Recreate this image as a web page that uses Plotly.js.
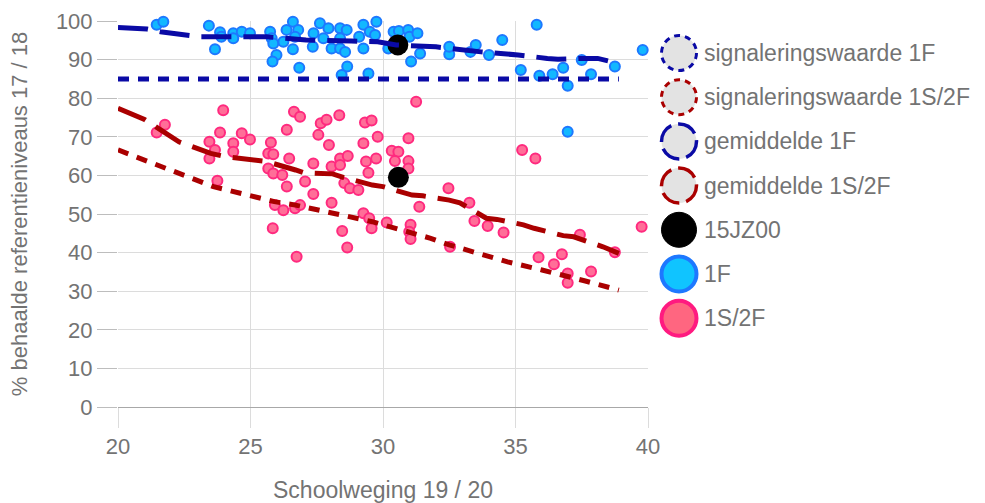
<!DOCTYPE html>
<html>
<head>
<meta charset="utf-8">
<script src="https://cdn.plot.ly/plotly-3.0.1.min.js"></script>
<style>html,body{margin:0;padding:0;background:#fff;}#chart{width:985px;height:503px;}</style>
</head>
<body>
<div id="chart"></div>
<script>
// ---- data ----
const seriesNames = ["signaleringswaarde 1F", "signaleringswaarde 1S/2F", "gemiddelde 1F", "gemiddelde 1S/2F", "15JZ00", "1F", "1S/2F"];

const sign1F_x = [20, 38.9];
const sign1F_y = [85, 85];

const sign1S2F_x = [20, 23.6, 25.9, 26.7, 29.6, 30.3, 31.8, 32.5, 34.7, 36.0, 36.8, 37.6, 38.9];
const sign1S2F_y = [66.6, 57.1, 53.2, 52.3, 48.0, 46.7, 43.7, 42.0, 37.6, 35.5, 34.2, 32.7, 30.3];

const gem1F_x = [20, 21.1, 21.6, 22.6, 23.1, 25.6, 27.1, 28.8, 29.8, 30.5, 31.7, 32.0, 33.7, 34.7, 35.1, 36.2, 36.6, 37.6, 38.1, 38.9];
const gem1F_y = [98.3, 97.9, 97.2, 96.2, 95.9, 95.9, 95.1, 94.8, 94.6, 93.8, 93.3, 93.3, 92.0, 91.6, 91.2, 90.3, 90.1, 90.3, 90.3, 89.0];

const gem1S2F_x = [20, 21.0, 22.3, 23.5, 24.1, 25.2, 25.6, 26.7, 27.0, 28.1, 28.5, 29.6, 30.0, 31.1, 31.5, 32.5, 32.9, 33.9, 34.3, 35.3, 35.7, 36.8, 37.2, 38.3, 38.9];
const gem1S2F_y = [77.4, 74.5, 68.7, 65.7, 64.8, 64.0, 63.6, 61.4, 60.7, 60.4, 59.5, 57.5, 57.1, 54.9, 54.7, 53.6, 52.9, 48.9, 48.6, 47.2, 46.3, 44.4, 44.1, 41.5, 39.8];

const school_x = [30.56, 30.58];
const school_y = [93.8, 59.5];

const f1_x = [21.46, 21.71, 23.43, 23.85, 23.66, 24.35, 24.67, 24.98, 23.9, 24.35, 25.74, 25.8, 25.86, 25.98, 25.83, 26.36, 26.6, 26.8, 26.68, 26.24, 26.6, 26.84, 27.38, 27.35, 27.62, 27.94, 27.75, 28.06, 28.38, 28.38, 28.38, 28.63, 28.57, 28.65, 28.44, 29.26, 29.5, 29.1, 29.26, 29.45, 29.75, 29.7, 30.2, 30.4, 30.6, 30.95, 31.0, 31.3, 31.4, 31.06, 32.5, 32.5, 33.3, 33.5, 34.0, 34.5, 35.8, 35.2, 35.9, 36.4, 36.8, 36.97, 37.5, 37.85, 38.75, 39.8, 36.97];
const f1_y = [99.0, 99.8, 98.8, 97.1, 92.7, 96.8, 97.2, 96.8, 95.9, 95.5, 97.2, 95.5, 94.2, 91.2, 89.5, 97.7, 99.8, 97.7, 95.9, 94.6, 92.7, 87.9, 96.8, 93.3, 99.4, 98.1, 95.5, 92.9, 98.1, 95.5, 92.9, 97.7, 92.0, 88.2, 86.0, 99.0, 97.2, 95.9, 92.9, 86.4, 99.8, 96.4, 92.9, 97.2, 97.4, 97.7, 95.9, 96.8, 91.6, 89.5, 91.4, 93.3, 92.0, 93.8, 91.2, 95.1, 99.0, 87.3, 85.8, 86.2, 87.9, 83.2, 89.9, 86.2, 88.2, 92.5, 71.3];

const s2f_x = [21.46, 21.77, 23.97, 23.85, 23.45, 23.66, 23.45, 23.75, 24.67, 24.98, 24.35, 24.35, 25.77, 25.67, 25.86, 25.67, 25.86, 26.2, 26.37, 25.92, 26.24, 25.84, 26.37, 26.64, 26.87, 26.46, 26.74, 26.68, 26.87, 27.06, 27.37, 27.37, 27.56, 27.65, 27.87, 27.96, 28.35, 28.06, 28.38, 28.38, 28.67, 28.54, 28.75, 29.07, 28.06, 28.46, 28.65, 29.32, 29.57, 29.26, 29.36, 29.45, 29.74, 29.8, 29.26, 29.48, 29.57, 31.25, 30.96, 30.33, 30.58, 30.45, 30.96, 30.96, 32.47, 31.37, 33.26, 30.14, 31.04, 30.99, 31.04, 32.53, 33.45, 33.95, 34.55, 35.25, 35.75, 35.87, 36.45, 36.75, 36.97, 36.97, 37.43, 37.85, 38.75, 39.76];
const s2f_y = [71.1, 73.1, 76.9, 71.1, 68.7, 66.6, 64.4, 58.6, 70.9, 69.3, 68.3, 66.1, 68.5, 65.7, 65.5, 61.8, 60.5, 60.1, 57.1, 52.3, 51.0, 46.3, 71.8, 76.5, 75.2, 64.4, 38.9, 51.5, 52.3, 58.4, 63.1, 55.2, 70.5, 73.5, 74.4, 67.9, 75.6, 62.3, 64.4, 62.7, 65.0, 58.0, 56.7, 56.2, 52.9, 45.6, 41.3, 73.7, 74.2, 68.3, 63.6, 60.7, 64.4, 70.0, 50.2, 48.9, 46.3, 79.1, 69.6, 66.4, 66.1, 63.7, 63.7, 61.8, 56.7, 51.9, 52.9, 47.8, 47.2, 45.4, 43.5, 41.5, 48.2, 46.9, 45.2, 66.6, 64.4, 38.8, 37.0, 39.6, 34.6, 32.2, 44.6, 35.1, 40.1, 46.7];

const xTitle = "Schoolweging 19 / 20";
const yTitle = "% behaalde referentieniveaus 17 / 18";

// ---- styles ----
const NAVY = "#0a0aa5";
const DRED = "#aa0000";
const TXT = "#737373";
const FONT = "Arial, 'Liberation Sans', sans-serif";

const traces = [
  {x: f1_x, y: f1_y, name: seriesNames[5], type: "scatter", mode: "markers", cliponaxis: false,
   marker: {size: 10, color: "#12b8ff", line: {color: "#1e78ff", width: 2}}},
  {x: s2f_x, y: s2f_y, name: seriesNames[6], type: "scatter", mode: "markers", cliponaxis: false,
   marker: {size: 10, color: "#ff6e98", line: {color: "#ff2a7f", width: 2}}},
  {x: school_x, y: school_y, name: seriesNames[4], type: "scatter", mode: "markers", cliponaxis: false,
   marker: {size: 21, color: "#000000"}},
  {x: sign1F_x, y: sign1F_y, name: seriesNames[0], type: "scatter", mode: "lines",
   line: {color: NAVY, width: 5, dash: "11px,9px"}},
  {x: sign1S2F_x, y: sign1S2F_y, name: seriesNames[1], type: "scatter", mode: "lines",
   line: {color: DRED, width: 5, dash: "11px,9px"}},
  {x: gem1F_x, y: gem1F_y, name: seriesNames[2], type: "scatter", mode: "lines",
   line: {color: NAVY, width: 5, dash: "30px,12px"}},
  {x: gem1S2F_x, y: gem1S2F_y, name: seriesNames[3], type: "scatter", mode: "lines",
   line: {color: DRED, width: 5, dash: "30px,12px"}}
];

// custom legend (shapes + text)
const PL = 118, PW = 530, PB = 407, PH = 386;
const legendItems = [
  {name: seriesNames[0], fill: "#e3e3e3", line: NAVY, dash: "6px,5px", w: 3},
  {name: seriesNames[1], fill: "#e3e3e3", line: DRED, dash: "6px,5px", w: 3},
  {name: seriesNames[2], fill: "#e3e3e3", line: NAVY, dash: "20px,7px", w: 3.5},
  {name: seriesNames[3], fill: "#e3e3e3", line: DRED, dash: "20px,7px", w: 3.5},
  {name: seriesNames[4], fill: "#000000", line: "#000000", dash: "solid", w: 1},
  {name: seriesNames[5], fill: "#10c4ff", line: "#1e78ff", dash: "solid", w: 4},
  {name: seriesNames[6], fill: "#ff6680", line: "#ff1a80", dash: "solid", w: 4}
];
const legendY0 = 53, legendDY = 44.2, circX = 679, textX = 702;
const shapes = [], annotations = [];
legendItems.forEach((it, i) => {
  const yp = legendY0 + i * legendDY;
  const ya = (PB - yp) / PH;
  const r = 17.5;
  shapes.push({type: "circle", xref: "paper", yref: "paper", xsizemode: "pixel", ysizemode: "pixel",
    xanchor: (circX - PL) / PW, yanchor: ya, x0: -r, x1: r, y0: -r, y1: r,
    fillcolor: it.fill, line: {color: it.line, width: it.w, dash: it.dash}});
  annotations.push({xref: "paper", yref: "paper", x: (textX - PL) / PW, y: ya, xanchor: "left", yanchor: "middle",
    text: it.name, showarrow: false, font: {family: FONT, size: 23, color: TXT}});
});

const layout = {
  width: 985, height: 503,
  margin: {l: PL, r: 985 - PL - PW, t: PB - PH, b: 503 - PB},
  paper_bgcolor: "#ffffff", plot_bgcolor: "#ffffff",
  showlegend: false,
  font: {family: FONT, size: 22, color: TXT},
  xaxis: {range: [20, 40], tickvals: [20, 25, 30, 35, 40], ticktext: ["20", "25", "30", "35", "40"],
    showgrid: true, gridcolor: "#dcdcdc", gridwidth: 1, zeroline: false, showline: false,
    ticks: "outside", ticklen: 20, tickcolor: "#dcdcdc", tickwidth: 1,
    tickfont: {family: FONT, size: 22, color: TXT},
    title: {text: xTitle, font: {family: FONT, size: 23, color: TXT}, standoff: 23}},
  yaxis: {range: [0, 100], tickvals: [0, 10, 20, 30, 40, 50, 60, 70, 80, 90, 100],
    showgrid: true, gridcolor: "#dcdcdc", gridwidth: 1, zeroline: true, zerolinecolor: "#a8a8a8", zerolinewidth: 1,
    showline: false, ticks: "outside", ticklen: 20, tickcolor: "#bdbdbd", tickwidth: 1,
    tickfont: {family: FONT, size: 22, color: TXT},
    title: {text: yTitle, font: {family: FONT, size: 22, color: TXT}, standoff: 22}},
  shapes: shapes,
  annotations: annotations
};

Plotly.newPlot("chart", traces, layout, {displayModeBar: false, staticPlot: true});
</script>
</body>
</html>
